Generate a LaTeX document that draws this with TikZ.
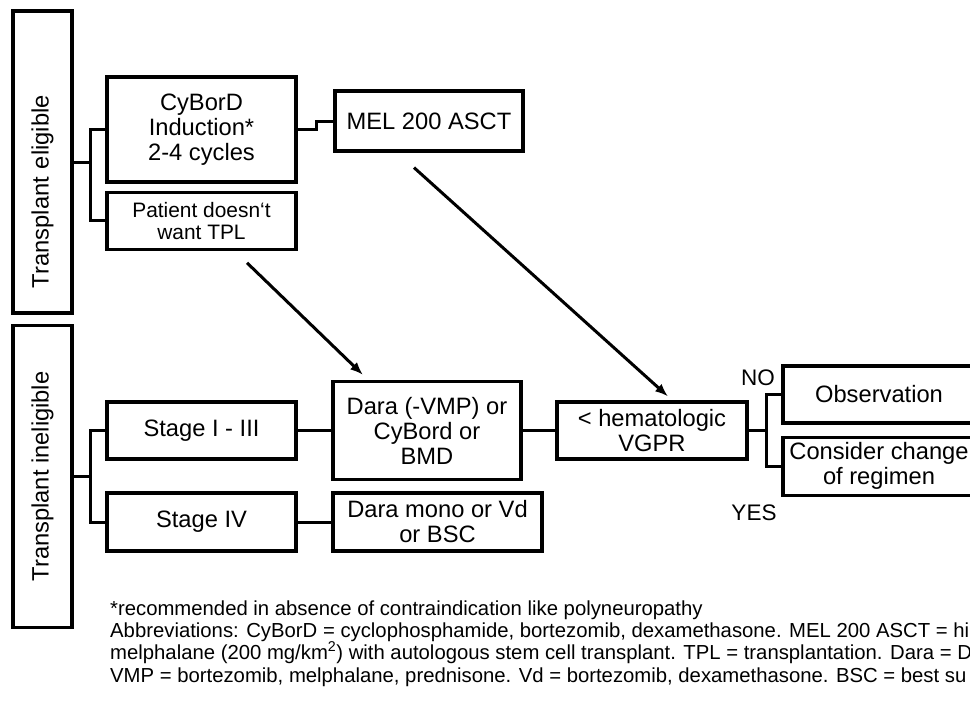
\documentclass[tikz,border=0pt]{standalone}
\usepackage{fontspec}
\setmainfont{Liberation Sans}
\usetikzlibrary{positioning,arrows.meta}

\begin{document}
\begin{tikzpicture}[x=1pt,y=-1pt,
  box/.style={draw, line width=3.2pt, inner sep=0pt, align=center,
    minimum width=189pt, minimum height=57pt, font=\fontsize{23.7}{25}\selectfont},
  side/.style={box, rotate=90, minimum width=302pt, minimum height=59pt},
  link/.style={line width=3pt},
  arr/.style={line width=3pt, -{Latex[length=13pt,width=10pt]}},
  answer/.style={inner sep=0pt, font=\fontsize{22.5}{23}\selectfont},
  note/.style={anchor=base west, inner sep=0pt, font=\fontsize{20.3}{22.3}\selectfont}]
\useasboundingbox (0,0) rectangle (970,701);
\clip (0,0) rectangle (970,701);

% left column (rotated: page right side = south anchor)
\node[side, text width=252pt, align=left, inner xsep=25pt](elig) at (42.5,162){Transplant eligible};
\node[side](inelig) at (42.5,476.5){Transplant ineligible};

% transplant eligible branch
\node[box, minimum height=105pt](ind) at (201.5,129.5){CyBorD\\Induction*\\2-4 cycles};
\node[box, font=\fontsize{20.9}{22}\selectfont](pat)[below = 7pt of ind]{Patient doesn‘t\\want TPL};
\node[box, minimum width=188pt, minimum height=60pt](mel) at (429,121){MEL 200 ASCT};

% transplant ineligible branch
\node[box](st13) at (201.5,430.5){Stage I - III};
\node[box, minimum height=58pt](st4) at (201.5,522){Stage IV};
\node[box, minimum width=188pt, minimum height=98pt](dara) at (427,430.5){Dara (-VMP) or\\CyBord or\\BMD};
\node[box, minimum width=209pt, minimum height=58pt](daramono) at (437.5,522){Dara mono or Vd\\or BSC};

% response
\node[box, minimum width=190pt](hem) at (652,430.5){< hematologic\\VGPR};
\node[box, minimum width=192pt](obs) at (879,394.5){Observation};
\node[box, minimum width=192pt, minimum height=58pt](chg)[below = 11pt of obs]{Consider change\\of regimen};
\node[answer](no) at (758,378){NO};
\node[answer](yes) at (754,513){YES};

% connectors
\draw[link] (elig.south) -- +(17,0) coordinate (j1);
\draw[link] (ind.west) -| (j1) |- (pat.west);
\draw[link] (ind.east) -- +(19,0) |- (mel.west);
\draw[link] (inelig.south) -- +(17,0) coordinate (j2);
\draw[link] (st13.west) -| (j2) |- (st4.west);
\draw[link] (st13.east) -- (dara.west);
\draw[link] (st4.east) -- (daramono.west);
\draw[link] (dara.east) -- (hem.west);
\draw[link] (hem.east) -- +(18,0) coordinate (j3);
\draw[link] (obs.west) -| (j3) |- (chg.west);

\draw[arr] ([xshift=45.5pt,yshift=-12pt]pat.south) -- ([xshift=-64pt,yshift=5pt]dara.north);
\draw[arr] ([xshift=-15pt,yshift=-15pt]mel.south) -- ([xshift=16pt,yshift=4pt]hem.north);

% footnote
\node[note](fn) at (110,615){*recommended in absence of contraindication like polyneuropathy};
\node[note](abbr1) at (110,637){Abbreviations: CyBorD = cyclophosphamide, bortezomib, dexamethasone. MEL 200 ASCT = hi};
\node[note](abbr2) at (110,659){melphalane (200 mg/km\textsuperscript{2}) with autologous stem cell transplant. TPL = transplantation. Dara = D};
\node[note](abbr3) at (110,682){VMP = bortezomib, melphalane, prednisone. Vd = bortezomib, dexamethasone. BSC = best su};
\end{tikzpicture}
\end{document}
